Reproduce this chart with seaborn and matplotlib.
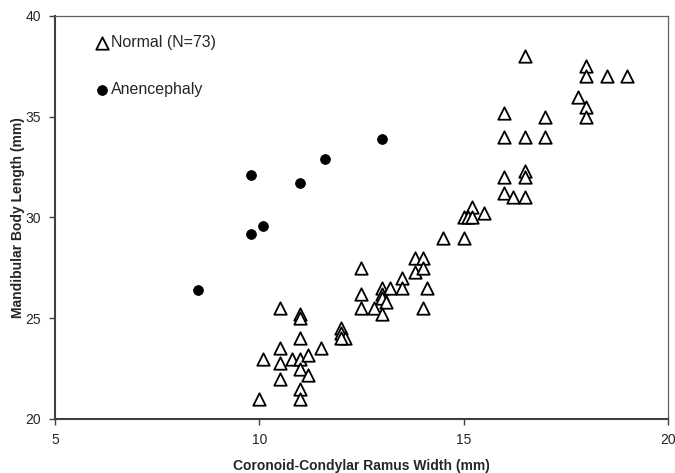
import matplotlib
matplotlib.use("Agg")
import matplotlib.pyplot as plt
import seaborn as sns
import pandas as pd

# Normal (N=73) ramus width / body length
normal_x = [10.0, 10.5, 10.1, 10.5, 10.5, 10.5, 10.8, 11.0, 11.0, 11.0, 11.0, 11.0,
            11.0, 11.0, 11.2, 11.2, 11.5, 12.0, 12.0, 12.1, 12.0, 12.5, 12.5, 12.5,
            12.8, 13.0, 13.0, 13.0, 13.1, 13.0, 13.2, 13.5, 13.5, 13.8, 14.0, 13.8,
            14.0, 14.1, 14.0, 16.5, 18.0, 18.0, 18.5, 19.0, 17.8, 18.0, 18.0, 16.0,
            17.0, 16.0, 16.5, 17.0, 16.0, 16.5, 16.5, 16.0, 16.2, 16.5, 15.2, 15.0,
            15.1, 15.2, 15.5, 14.5, 15.0]
normal_y = [21.0, 22.0, 23.0, 22.8, 23.5, 25.5, 23.0, 23.0, 22.5, 21.5, 21.0, 24.0,
            25.2, 25.0, 22.2, 23.2, 23.5, 24.5, 24.25, 24.0, 24.0, 27.5, 26.2, 25.5,
            25.5, 26.5, 26.2, 26.0, 25.8, 25.2, 26.5, 27.0, 26.5, 28.0, 28.0, 27.3,
            27.5, 26.5, 25.5, 38.0, 37.5, 37.0, 37.0, 37.0, 36.0, 35.5, 35.0, 35.2,
            35.0, 34.0, 34.0, 34.0, 32.0, 32.3, 32.0, 31.2, 31.0, 31.0, 30.5, 30.0,
            30.0, 30.0, 30.2, 29.0, 29.0]

# Anencephaly cases
anen_x = [8.5, 9.8, 9.8, 10.1, 11.0, 11.6, 13.0]
anen_y = [26.4, 32.1, 29.2, 29.6, 31.7, 32.9, 33.9]

groups = ["Normal (N=73)", "Anencephaly"]

df = pd.concat([
    pd.DataFrame({"width": normal_x, "length": normal_y, "group": groups[0]}),
    pd.DataFrame({"width": anen_x, "length": anen_y, "group": groups[1]}),
])

sns.set_style("white")
plt.rcParams["font.family"] = ["Liberation Sans", "DejaVu Sans"]

fig = plt.figure(figsize=(6.75, 4.73), dpi=100)
ax = fig.add_axes([0.0815, 0.1142, 0.908, 0.852])

sns.scatterplot(data=df[df.group == groups[0]], x="width", y="length", ax=ax,
                marker="^", s=80, facecolor="white", edgecolor="black",
                linewidth=1.3, label=groups[0], zorder=3)
sns.scatterplot(data=df[df.group == groups[1]], x="width", y="length", ax=ax,
                marker="o", s=50, color="black", edgecolor="black",
                label=groups[1], zorder=3)

ax.set_xlim(5, 20)
ax.set_ylim(20, 40)
ax.set_xticks([5, 10, 15, 20])
ax.set_yticks([20, 25, 30, 35, 40])
ax.tick_params(axis="both", direction="out", length=4, width=1, color="#404040",
               labelsize=10, pad=6, bottom=True, left=True)

for side in ["left", "bottom"]:
    ax.spines[side].set_color("#404040")
    ax.spines[side].set_linewidth(1.5)
for side in ["top", "right"]:
    ax.spines[side].set_color("#606060")
    ax.spines[side].set_linewidth(0.9)

ax.set_xlabel("Coronoid-Condylar Ramus Width (mm)", fontsize=10,
              fontweight="bold", labelpad=9)
ax.set_ylabel("Mandibular Body Length (mm)", fontsize=10,
              fontweight="bold", labelpad=0)

ax.legend(loc="upper left", bbox_to_anchor=(0.032, 0.98), frameon=False,
          fontsize=11.5, handletextpad=-0.4, labelspacing=2.0, borderaxespad=0.3)

fig.savefig("out.png", dpi=100)
